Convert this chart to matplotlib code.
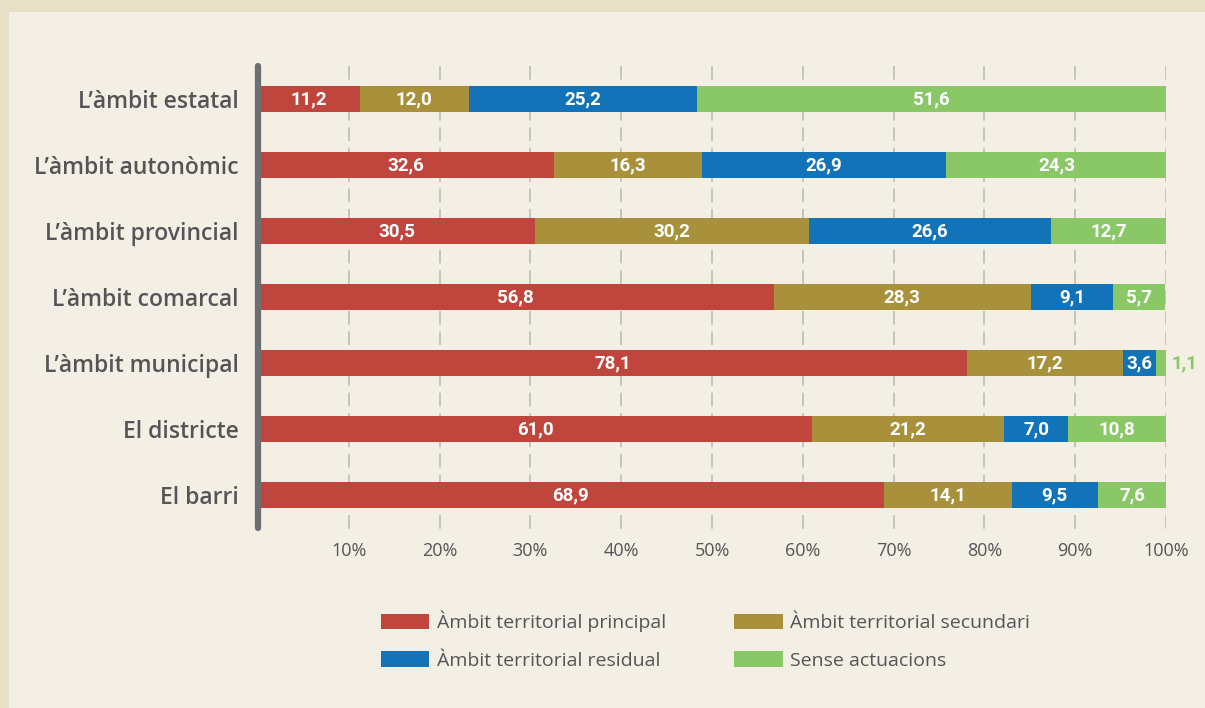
import matplotlib
matplotlib.use("Agg")
import matplotlib.pyplot as plt
from matplotlib.patches import Rectangle, Patch

categories = ["L\u2019àmbit estatal", "L\u2019àmbit autonòmic", "L\u2019àmbit provincial",
              "L\u2019àmbit comarcal", "L\u2019àmbit municipal", "El districte", "El barri"]
series_names = ["Àmbit territorial principal", "Àmbit territorial secundari",
                "Àmbit territorial residual", "Sense actuacions"]
principal = [11.2, 32.6, 30.5, 56.8, 78.1, 61.0, 68.9]
secundari = [12.0, 16.3, 30.2, 28.3, 17.2, 21.2, 14.1]
residual = [25.2, 26.9, 26.6, 9.1, 3.6, 7.0, 9.5]
sense = [51.6, 24.3, 12.7, 5.7, 1.1, 10.8, 7.6]
tick_values = [10, 20, 30, 40, 50, 60, 70, 80, 90, 100]
tick_labels = ["10%", "20%", "30%", "40%", "50%", "60%", "70%", "80%", "90%", "100%"]

colors = ["#c0463d", "#a8913a", "#1373b8", "#89c767"]
text_gray = "#555557"

fig = plt.figure(figsize=(12.05, 7.08), dpi=100)
fig.patch.set_facecolor("#e7e0c6")
fig.add_artist(Rectangle((9 / 1205, 0), 1 - 9 / 1205, 1 - 12 / 708,
                         transform=fig.transFigure, facecolor="#f3efe4",
                         edgecolor="none", zorder=-10))

W, H = 1205, 708
x0, x1 = 258, 1166
ytop, ybot = 63, 530
ax = fig.add_axes([x0 / W, 1 - ybot / H, (x1 - x0) / W, (ybot - ytop) / H])
ax.set_facecolor("none")
ax.set_xlim(0, 100)
ax.set_ylim(6.53, -0.545)
for s in ax.spines.values():
    s.set_visible(False)

ypos = list(range(len(categories)))
data = [principal, secundari, residual, sense]
left = [0.0] * len(categories)
bar_h = 0.40
for si, vals in enumerate(data):
    ax.barh(ypos, vals, left=left, height=bar_h, color=colors[si], zorder=3,
            label=series_names[si])
    for yi, v in enumerate(vals):
        txt = f"{v:.1f}".replace(".", ",")
        if v < 2:
            ax.text(left[yi] + v + 0.6, yi, txt, ha="left", va="center",
                    color=colors[si], fontsize=13.5, fontweight="bold",
                    family="Roboto", zorder=4)
        else:
            ax.text(left[yi] + v / 2, yi, txt, ha="center", va="center",
                    color="white", fontsize=13.5, fontweight="bold",
                    family="Roboto", zorder=4)
    left = [l + v for l, v in zip(left, vals)]

for t in tick_values:
    ax.plot([t, t], [-0.5, 6.53], color="#c3c3c3", lw=1.4,
            dashes=(7, 3.5), zorder=1, solid_capstyle="butt")
ax.plot([0, 0], [-0.5, 6.5], color="#6d6e72", lw=4.5,
        solid_capstyle="round", zorder=5, clip_on=False)

ax.set_xticks(tick_values)
ax.set_xticklabels(tick_labels, fontsize=13, color=text_gray, family="Open Sans")
ax.tick_params(axis="x", length=0, pad=9)
ax.set_yticks(ypos)
ax.set_yticklabels(categories, fontsize=16.5, color=text_gray, family="Open Sans",
                   fontweight="semibold")
ax.tick_params(axis="y", length=0, pad=14)

handles = [Patch(facecolor=colors[i], edgecolor="none") for i in [0, 2, 1, 3]]
labels = [series_names[i] for i in [0, 2, 1, 3]]
leg = fig.legend(handles, labels, ncol=2, loc="upper left",
                 bbox_to_anchor=(363 / W, 1 - 593 / H), frameon=False,
                 prop={"family": "Open Sans", "size": 14},
                 handlelength=2.5, handleheight=0.85, handletextpad=0.4,
                 labelspacing=1.0, columnspacing=3.5, labelcolor=text_gray)

fig.savefig("out.png", dpi=100, facecolor=fig.get_facecolor())
